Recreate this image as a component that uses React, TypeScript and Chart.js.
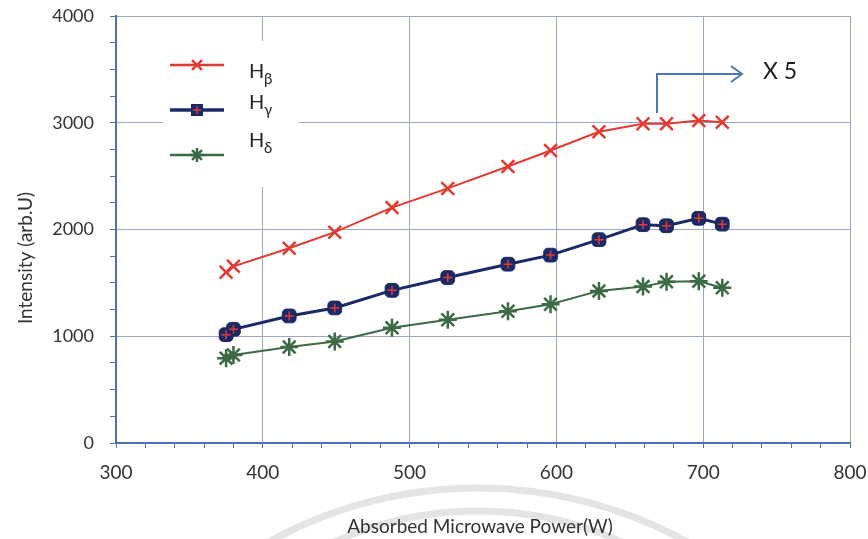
import React, { useEffect, useRef } from "react";
import { Chart, registerables } from "chart.js";

Chart.register(...registerables);

const powerW = [375, 380, 418, 449, 488, 526, 567, 596, 629, 659, 675, 697, 713];
const hBeta = [1600, 1655, 1825, 1975, 2205, 2385, 2590, 2740, 2915, 2990, 2990, 3020, 3005];
const hGamma = [1015, 1065, 1190, 1265, 1430, 1550, 1675, 1760, 1905, 2045, 2035, 2105, 2050];
const hDelta = [795, 825, 900, 950, 1080, 1155, 1235, 1300, 1425, 1465, 1510, 1515, 1455];

const seriesNames = ["β", "γ", "δ"];
const xTitle = "Absorbed Microwave Power(W)";
const yTitle = "Intensity (arb.U)";
const annotationText = "X 5";

const RED = "#e23a33";
const NAVY = "#1b2a66";
const GREEN = "#3c6a44";
const AXIS = "#4d6fb0";
const GRID = "#9ea5c2";
const FONT = "Lato, 'Open Sans', sans-serif";

const pts = (ys: number[]) => ys.map((y, i) => ({ x: powerW[i], y }));

function drawX(ctx: CanvasRenderingContext2D, x: number, y: number, r: number) {
  const d = r * Math.SQRT1_2;
  ctx.moveTo(x - d, y - d);
  ctx.lineTo(x + d, y + d);
  ctx.moveTo(x - d, y + d);
  ctx.lineTo(x + d, y - d);
}

const decorPlugin = {
  id: "decor",
  beforeDraw(chart: any) {
    const ctx = chart.ctx;
    ctx.save();
    ctx.fillStyle = "#ffffff";
    ctx.fillRect(0, 0, chart.width, chart.height);
    ctx.strokeStyle = "#e4e4e4";
    ctx.lineWidth = 7;
    ctx.beginPath();
    ctx.arc(478, 488 + 432, 432, Math.PI * 1.2, Math.PI * 1.8);
    ctx.stroke();
    ctx.beginPath();
    ctx.arc(478, 511 + 351, 351, Math.PI * 1.25, Math.PI * 1.75);
    ctx.stroke();
    ctx.restore();
  },
  afterDatasetsDraw(chart: any) {
    const ctx = chart.ctx;
    ctx.save();
    ctx.fillStyle = "#ffffff";
    ctx.fillRect(163, 41, 136, 146);
    const items = [
      { color: RED, width: 2.5, y: 65, style: "x", labelY: 72 },
      { color: NAVY, width: 3.5, y: 110, style: "gamma", labelY: 103 },
      { color: GREEN, width: 2.5, y: 155, style: "star", labelY: 141 },
    ];
    items.forEach((it, i) => {
      ctx.strokeStyle = it.color;
      ctx.lineWidth = it.width;
      ctx.beginPath();
      ctx.moveTo(170, it.y);
      ctx.lineTo(224, it.y);
      ctx.stroke();
      const cx = 197;
      if (it.style === "gamma") {
        ctx.fillStyle = NAVY;
        ctx.beginPath();
        ctx.rect(cx - 6, it.y - 6, 12, 12);
        ctx.fill();
        ctx.strokeStyle = RED;
        ctx.lineWidth = 1.5;
        ctx.beginPath();
        ctx.moveTo(cx - 4, it.y);
        ctx.lineTo(cx + 4, it.y);
        ctx.moveTo(cx, it.y - 4);
        ctx.lineTo(cx, it.y + 4);
        ctx.stroke();
      } else {
        ctx.strokeStyle = it.color;
        ctx.lineWidth = 2.5;
        ctx.beginPath();
        drawX(ctx, cx, it.y, 7);
        if (it.style === "star") {
          ctx.moveTo(cx - 7, it.y);
          ctx.lineTo(cx + 7, it.y);
          ctx.moveTo(cx, it.y - 7);
          ctx.lineTo(cx, it.y + 7);
        }
        ctx.stroke();
      }
      ctx.fillStyle = "#222222";
      ctx.textBaseline = "middle";
      ctx.textAlign = "left";
      ctx.font = `20px ${FONT}`;
      ctx.fillText("H", 249, it.labelY);
      ctx.font = `15px ${FONT}`;
      ctx.fillText(seriesNames[i], 264, it.labelY + 7);
    });

    ctx.strokeStyle = "#4f74b8";
    ctx.lineWidth = 2;
    ctx.beginPath();
    ctx.moveTo(657, 113);
    ctx.lineTo(657, 74);
    ctx.lineTo(742, 74);
    ctx.moveTo(731, 66);
    ctx.lineTo(742, 74);
    ctx.lineTo(731, 82);
    ctx.stroke();
    ctx.fillStyle = "#1e1e1e";
    ctx.font = `23px ${FONT}`;
    ctx.textBaseline = "middle";
    ctx.textAlign = "left";
    ctx.fillText(annotationText, 763, 72);

    ctx.fillStyle = "#333333";
    ctx.font = `19px ${FONT}`;
    ctx.textAlign = "center";
    ctx.fillText(xTitle, 480, 527);
    ctx.translate(26, 258);
    ctx.rotate(-Math.PI / 2);
    ctx.fillText(yTitle, 0, 0);
    ctx.restore();
  },
};

export default function App() {
  const ref = useRef<HTMLCanvasElement>(null);
  useEffect(() => {
    if (!ref.current) return;
    const chart = new Chart(ref.current, {
      type: "line",
      data: {
        datasets: [
          {
            label: "Hβ",
            data: pts(hBeta),
            order: 1,
            borderColor: RED,
            backgroundColor: RED,
            borderWidth: 2,
            pointStyle: "crossRot",
            pointRadius: 9,
            pointBorderWidth: 2.5,
            pointBorderColor: RED,
            tension: 0,
          },
          {
            label: "Hγ",
            data: pts(hGamma),
            order: 1,
            borderColor: NAVY,
            backgroundColor: NAVY,
            borderWidth: 3,
            pointStyle: "rectRounded",
            pointRadius: 8,
            pointBorderWidth: 1,
            pointBorderColor: NAVY,
            tension: 0,
          },
          {
            label: "Hγ-cross",
            data: pts(hGamma),
            order: 0,
            showLine: false,
            borderColor: RED,
            backgroundColor: RED,
            pointStyle: "cross",
            pointRadius: 4.5,
            pointBorderWidth: 1.5,
            pointBorderColor: RED,
          },
          {
            label: "Hδ",
            data: pts(hDelta),
            order: 1,
            borderColor: GREEN,
            backgroundColor: GREEN,
            borderWidth: 2,
            pointStyle: "star",
            pointRadius: 9,
            pointBorderWidth: 2.5,
            pointBorderColor: GREEN,
            tension: 0,
          },
        ],
      },
      options: {
        animation: false,
        responsive: false,
        layout: { padding: { top: 16, right: 18, left: 0, bottom: 0 } },
        plugins: { legend: { display: false }, tooltip: { enabled: false } },
        scales: {
          x: {
            type: "linear",
            min: 300,
            max: 800,
            afterFit: (s: any) => {
              s.height = 96;
              s.paddingLeft = 0;
              s.paddingRight = 0;
            },
            afterBuildTicks: (s: any) => {
              const t = [];
              for (let v = 300; v <= 800; v += 20) t.push({ value: v });
              s.ticks = t;
            },
            ticks: {
              autoSkip: false,
              maxRotation: 0,
              padding: 13,
              color: "#333333",
              font: { family: FONT, size: 19 },
              callback: (v: any) => (v % 100 === 0 ? String(v) : ""),
            },
            grid: {
              color: (c: any) => (c.tick && c.tick.value % 100 === 0 ? GRID : "rgba(0,0,0,0)"),
              tickColor: AXIS,
              tickLength: 5,
              lineWidth: 1,
            },
            border: { color: AXIS, width: 2 },
          },
          y: {
            min: 0,
            max: 4000,
            afterFit: (s: any) => {
              s.width = 116;
              s.paddingTop = 0;
              s.paddingBottom = 0;
            },
            afterBuildTicks: (s: any) => {
              const t = [];
              for (let v = 0; v <= 4000; v += 250) t.push({ value: v });
              s.ticks = t;
            },
            ticks: {
              autoSkip: false,
              padding: 16,
              color: "#333333",
              font: { family: FONT, size: 18 },
              callback: (v: any) => (v % 1000 === 0 ? String(v) : ""),
            },
            grid: {
              color: (c: any) => (c.tick && c.tick.value % 1000 === 0 ? GRID : "rgba(0,0,0,0)"),
              tickColor: AXIS,
              tickLength: 6,
              lineWidth: 1,
            },
            border: { color: AXIS, width: 2 },
          },
        },
      },
      plugins: [decorPlugin],
    });
    return () => chart.destroy();
  }, []);
  return (
    <div style={{ position: "absolute", left: 0, top: 0, width: 868, height: 539 }}>
      <canvas ref={ref} width={868} height={539} />
    </div>
  );
}
